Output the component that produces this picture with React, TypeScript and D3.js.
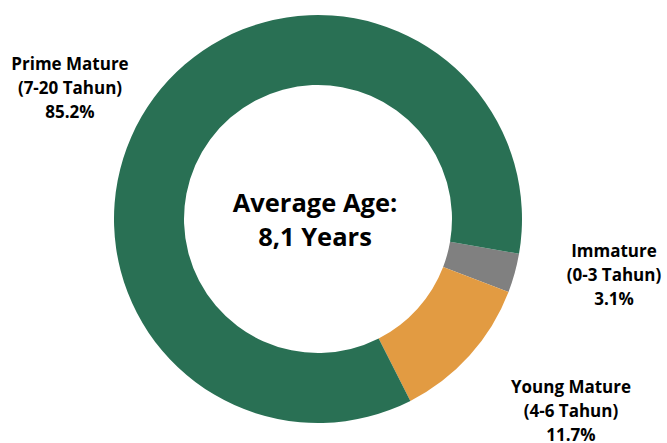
import React from "react";
import * as d3 from "d3";

const categories = ["Immature", "Young Mature", "Prime Mature"];
const ranges = ["(0-3 Tahun)", "(4-6 Tahun)", "(7-20 Tahun)"];
const shares = [3.1, 11.7, 85.2];
const colors = ["#808080", "#E29B42", "#297054"];
const centerLines = ["Average Age:", "8,1 Years"];

const W = 667;
const H = 443;
const cx = 318;
const cy = 219;
const outerR = 204;
const innerR = 134;
const startDeg = 99.8;
// label anchor (center x, first baseline y)
const labelPos: [number, number][] = [
  [614, 257],
  [571, 393],
  [70, 70],
];
const lineH = 24;
const font = "'Open Sans', 'Noto Sans', sans-serif";

export default function App() {
  const start = (startDeg * Math.PI) / 180;
  const pie = d3
    .pie<number>()
    .sort(null)
    .value((d) => d)
    .startAngle(start)
    .endAngle(start + 2 * Math.PI);
  const arcs = pie(shares);
  const arc = d3.arc<d3.PieArcDatum<number>>().innerRadius(innerR).outerRadius(outerR);
  return (
    <svg width={W} height={H} style={{ position: "absolute", left: 0, top: 0 }}>
      <rect width={W} height={H} fill="#fff" />
      <g transform={`translate(${cx},${cy})`}>
        {arcs.map((a, i) => (
          <path key={i} d={arc(a) || ""} fill={colors[i]} />
        ))}
      </g>
      {categories.map((c, i) => (
        <text
          key={c}
          x={labelPos[i][0]}
          y={labelPos[i][1]}
          textAnchor="middle"
          fontFamily={font}
          fontWeight="bold"
          fontSize={17}
          fill="#000"
        >
          <tspan x={labelPos[i][0]}>{c}</tspan>
          <tspan x={labelPos[i][0]} dy={lineH}>{ranges[i]}</tspan>
          <tspan x={labelPos[i][0]} dy={lineH}>{shares[i].toFixed(1)}%</tspan>
        </text>
      ))}
      <text textAnchor="middle" fontFamily={font} fontWeight="bold" fontSize={25.5} fill="#000">
        <tspan x={cx - 3} y={212}>{centerLines[0]}</tspan>
        <tspan x={cx - 3} y={246}>{centerLines[1]}</tspan>
      </text>
    </svg>
  );
}
